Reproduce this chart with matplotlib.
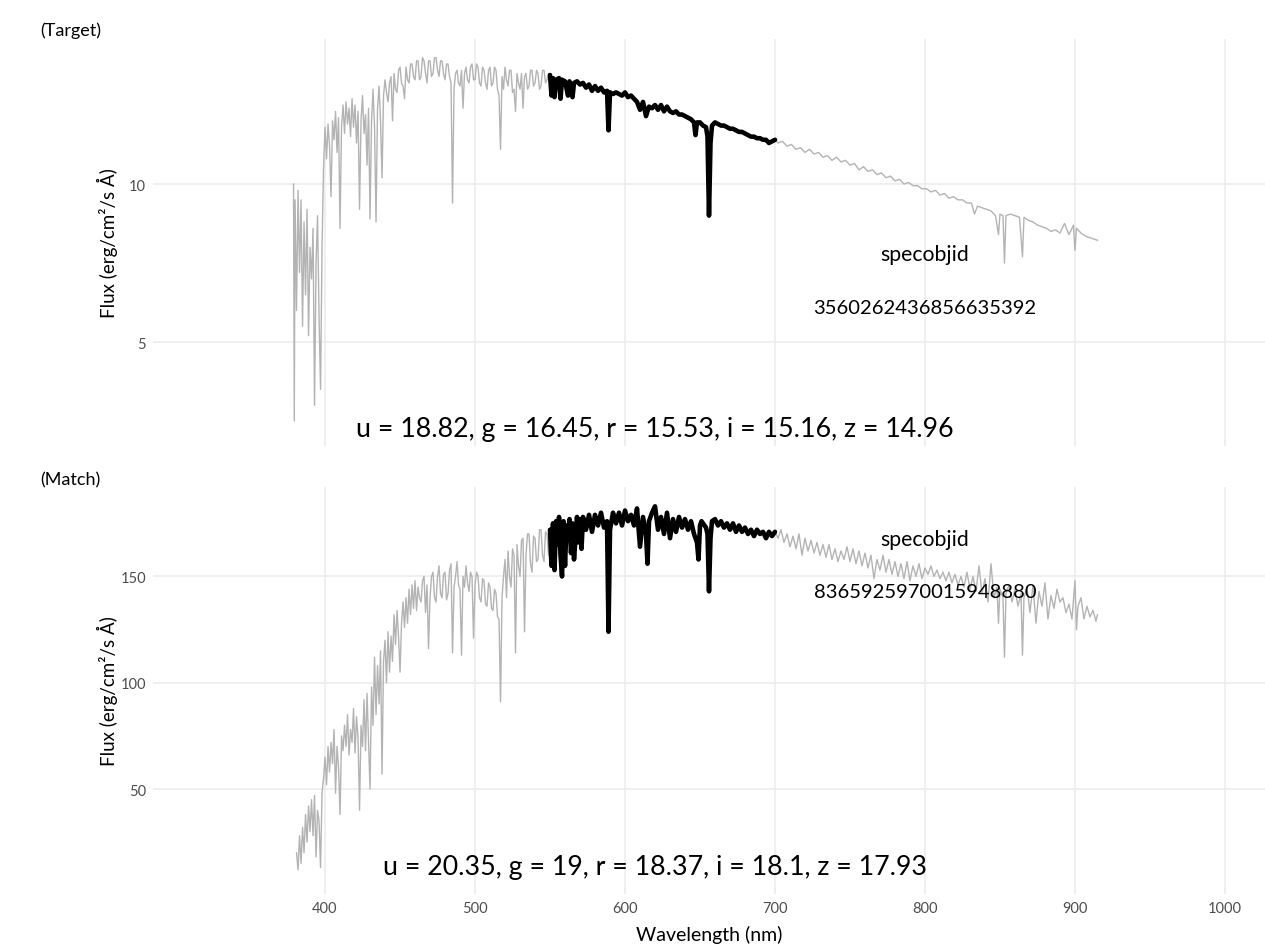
import numpy as np
import matplotlib
matplotlib.use("Agg")
import matplotlib.pyplot as plt

plt.rcParams['font.family'] = ['Lato', 'DejaVu Sans']

# --- target spectrum ---
tgt_wave = [379.0, 379.5, 380, 381, 382, 383, 384, 385, 386, 387, 388, 389, 390, 391, 392, 393, 394, 395, 396, 397, 398, 399,
            400, 401, 402, 403, 404, 405, 406, 407, 408, 409, 410, 411, 412, 413, 414, 415, 416, 417, 418, 419,
            420, 421, 422, 423, 424, 425, 426, 427, 428, 429, 430, 431, 432, 433, 434, 435, 436, 437, 438, 439,
            440, 441, 442, 443, 444, 445, 446, 447, 448, 449, 450, 451, 452, 453, 454, 455, 456, 457, 458, 459,
            460, 461, 462, 463, 464, 465, 466, 467, 468, 469, 470, 471, 472, 473, 474, 475, 476, 477, 478, 479,
            480, 481, 482, 483, 484, 485, 486, 487, 488, 489, 490, 491, 492, 493, 494, 495, 496, 497, 498, 499,
            500, 501, 502, 503, 504, 505, 506, 507, 508, 509, 510, 511, 512, 513, 514, 515, 516, 517, 518, 519,
            520, 521, 522, 523, 524, 525, 526, 527, 528, 529, 530, 531, 532, 533, 534, 535, 536, 537, 538, 539,
            540, 541, 542, 543, 544, 545, 546, 547, 548, 549,
            550, 551, 552, 553, 554, 556, 557, 558, 560, 562, 563, 565, 566, 568, 570, 572, 574, 576, 578, 580,
            582, 584, 586, 588, 589, 590, 592, 594, 596, 598, 600, 602, 604, 606, 608, 610, 612, 614, 616, 618,
            620, 622, 624, 626, 628, 630, 632, 634, 636, 638, 640, 642, 644, 646, 647, 648, 650, 652, 654, 655,
            656, 657, 658, 660, 662, 664, 666, 668, 670, 672, 674, 676, 678, 680, 682, 684, 686, 688, 690, 692,
            694, 696, 698, 700, 702, 705, 708, 711, 714, 717, 720, 723, 726, 729, 732, 735, 738, 741, 744, 747,
            750, 753, 756, 759, 762, 765, 768, 771, 774, 777, 780, 783, 786, 789, 792, 795, 798, 801, 804, 807,
            810, 813, 816, 819, 822, 825, 828, 831, 833, 835, 838, 841, 844, 847, 849, 850, 852, 853, 854, 857,
            860, 863, 865, 866, 869, 872, 875, 878, 881, 884, 887, 890, 893, 896, 899, 900, 901, 904, 907, 910,
            913, 915]
tgt_flux = [10.0, 2.5, 9.5, 6.0, 9.8, 7.2, 9.5, 5.5, 8.8, 6.5, 9.2, 5.2, 8.0, 7.0, 8.6, 3.0, 7.5, 9.0, 5.8, 3.5, 8.0, 10.5,
            11.8, 10.8, 11.9, 11.2, 9.6, 12.0, 11.4, 12.3, 11.0, 12.1, 8.6, 11.8, 12.5, 11.6, 12.6, 11.9, 12.4, 11.5, 12.7, 11.8,
            12.5, 11.3, 12.3, 9.2, 12.0, 12.8, 11.6, 12.2, 10.6, 12.4, 8.9, 12.0, 13.0, 11.8, 8.8, 12.4, 13.1, 12.0, 10.2, 12.8,
            13.3, 12.9, 12.6, 13.2, 13.4, 12.0, 13.5, 13.0, 12.9, 13.6, 13.7, 13.2, 13.1, 12.7, 13.7, 13.3, 13.2, 13.8, 13.8, 13.4,
            13.3, 13.9, 13.9, 13.3, 13.4, 14.0, 13.9, 13.5, 13.2, 13.9, 13.9, 13.4, 13.5, 14.0, 14.0, 13.6, 13.4, 13.9, 13.9, 13.5,
            13.3, 13.8, 13.8, 13.4, 13.2, 9.4, 13.0, 13.5, 13.6, 13.2, 13.1, 13.6, 12.4, 13.5, 13.7, 13.3, 13.2, 13.7, 13.8, 13.3,
            13.3, 13.8, 13.7, 13.2, 13.1, 13.7, 13.6, 13.2, 13.0, 13.6, 13.7, 13.1, 13.2, 13.7, 13.6, 13.0, 12.8, 11.1, 13.4, 13.0,
            13.7, 13.3, 13.1, 13.6, 13.6, 12.9, 13.0, 12.3, 13.5, 13.2, 13.0, 13.5, 12.4, 13.4, 13.5, 13.0, 13.1, 13.6, 13.6, 13.1,
            13.2, 13.6, 13.5, 13.0, 13.1, 13.6, 13.6, 13.2, 13.3, 13.5,
            13.45, 12.8, 13.35, 12.75, 13.3, 13.35, 12.7, 13.3, 13.25, 12.8, 13.25, 12.75, 13.2, 13.25, 13.15, 13.2, 13.05, 13.15, 12.95, 13.1,
            12.95, 13.05, 12.9, 12.95, 11.7, 12.9, 12.85, 12.9, 12.85, 12.8, 12.9, 12.75, 12.8, 12.7, 12.6, 12.35, 12.6, 12.15, 12.45, 12.4,
            12.5, 12.35, 12.5, 12.3, 12.45, 12.3, 12.25, 12.3, 12.2, 12.2, 12.15, 12.1, 12.05, 11.95, 11.55, 11.95, 11.95, 11.85, 11.8, 11.5,
            9.0, 11.3, 11.85, 11.95, 11.9, 11.85, 11.85, 11.8, 11.75, 11.75, 11.7, 11.65, 11.65, 11.6, 11.55, 11.5, 11.5, 11.45, 11.45, 11.4,
            11.4, 11.3, 11.35, 11.4, 11.3, 11.35, 11.2, 11.25, 11.1, 11.15, 11.0, 11.1, 10.95, 11.0, 10.85, 10.9, 10.75, 10.85, 10.7, 10.75,
            10.6, 10.65, 10.45, 10.55, 10.4, 10.45, 10.3, 10.35, 10.2, 10.25, 10.1, 10.15, 10.0, 10.05, 9.95, 9.95, 9.85, 9.85, 9.75, 9.8,
            9.65, 9.7, 9.55, 9.6, 9.5, 9.5, 9.4, 9.4, 9.05, 9.3, 9.25, 9.2, 9.15, 9.0, 8.4, 9.05, 9.0, 7.5, 9.0, 9.05,
            9.0, 8.95, 7.7, 8.95, 8.85, 8.8, 8.7, 8.65, 8.6, 8.5, 8.55, 8.45, 8.75, 8.4, 8.7, 7.9, 8.6, 8.45, 8.35, 8.3,
            8.25, 8.22]

# --- matched spectrum ---
match_wave = [381, 382, 383, 384, 385, 386, 387, 388, 389, 390, 391, 392, 393, 394, 395, 396, 397, 398, 399,
              400, 401, 402, 403, 404, 405, 406, 407, 408, 409, 410, 411, 412, 413, 414, 415, 416, 417, 418, 419,
              420, 421, 422, 423, 424, 425, 426, 427, 428, 429, 430, 431, 432, 433, 434, 435, 436, 437, 438, 439,
              440, 441, 442, 443, 444, 445, 446, 447, 448, 449, 450, 451, 452, 453, 454, 455, 456, 457, 458, 459,
              460, 461, 462, 463, 464, 465, 466, 467, 468, 469, 470, 471, 472, 473, 474, 475, 476, 477, 478, 479,
              480, 481, 482, 483, 484, 485, 486, 487, 488, 489, 490, 491, 492, 493, 494, 495, 496, 497, 498, 499,
              500, 501, 502, 503, 504, 505, 506, 507, 508, 509, 510, 511, 512, 513, 514, 515, 516, 517, 518, 519,
              520, 521, 522, 523, 524, 525, 526, 527, 528, 529, 530, 531, 532, 533, 534, 535, 536, 537, 538, 539,
              540, 541, 542, 543, 544, 545, 546, 547, 548, 549,
              550, 551, 552, 553, 554, 555, 556, 557, 558, 559, 560, 561, 562, 563, 564, 565, 566, 568, 569, 570,
              571, 572, 574, 576, 578, 580, 582, 584, 586, 588, 589, 590, 591, 592, 594, 596, 598, 600, 602, 604,
              606, 608, 610, 612, 614, 615, 616, 618, 620, 622, 624, 626, 628, 630, 632, 634, 636, 638, 640, 642,
              644, 646, 648, 649, 650, 651, 652, 654, 655, 656, 657, 658, 660, 662, 664, 666, 668, 670, 672, 674,
              676, 678, 680, 682, 684, 686, 688, 690, 692, 694, 696, 698, 700, 702, 704, 706, 708, 710, 712, 714,
              716, 718, 720, 722, 724, 726, 728, 730, 732, 734, 736, 738, 740, 742, 744, 746, 748, 750, 752, 754,
              756, 758, 760, 762, 764, 766, 768, 770, 772, 774, 776, 778, 780, 782, 784, 786, 788, 790, 792, 794,
              796, 798, 800, 802, 804, 806, 808, 810, 812, 814, 816, 818, 820, 822, 824, 826, 828, 830, 832, 834,
              836, 838, 840, 842, 844, 846, 848, 849, 850, 852, 853, 854, 856, 858, 860, 862, 864, 865, 866, 868,
              870, 872, 874, 876, 878, 880, 882, 884, 886, 888, 890, 892, 894, 896, 898, 900, 901, 902, 904, 906,
              908, 910, 912, 914, 915]
match_flux = [20, 12, 28, 15, 32, 20, 38, 25, 42, 30, 45, 28, 47, 18, 40, 35, 13, 48, 55,
              65, 52, 70, 58, 72, 62, 78, 48, 70, 60, 38, 75, 68, 80, 70, 85, 66, 78, 72, 88,
              67, 84, 74, 40, 80, 70, 92, 68, 95, 72, 50, 98, 80, 112, 85, 108, 90, 115, 57, 110,
              120, 100, 124, 105, 122, 110, 132, 118, 134, 122, 105, 128, 138, 126, 140, 128, 144, 132, 146, 135,
              148, 134, 145, 140, 138, 148, 150, 133, 146, 116, 140, 150, 152, 140, 138, 150, 155, 142, 140, 151,
              152, 139, 142, 153, 156, 114, 145, 150, 157, 146, 144, 113, 150, 145, 155, 147, 143, 152, 150, 121,
              146, 152, 150, 140, 138, 149, 148, 137, 136, 147, 145, 135, 134, 144, 142, 131, 130, 91, 140, 150,
              158, 140, 162, 150, 145, 163, 160, 114, 165, 155, 150, 167, 168, 124, 160, 170, 170, 156, 152, 169,
              168, 157, 158, 172, 172, 160, 157, 171, 170, 160,
              172, 155, 175, 153, 176, 165, 178, 160, 150, 176, 155, 174, 168, 177, 161, 175, 158, 178, 166, 177,
              163, 178, 172, 179, 171, 179, 174, 180, 173, 176, 124, 172, 176, 180, 175, 180, 174, 181, 176, 179,
              174, 182, 164, 178, 170, 156, 176, 180, 183, 172, 178, 170, 180, 168, 177, 171, 178, 173, 177, 172,
              176, 170, 166, 158, 174, 176, 175, 173, 170, 143, 168, 176, 177, 174, 176, 173, 175, 172, 175, 171,
              174, 171, 173, 170, 172, 169, 172, 170, 171, 168, 171, 169, 171, 168, 172, 166, 170, 164, 169, 163,
              170, 160, 168, 162, 167, 161, 166, 160, 165, 159, 165, 158, 163, 157, 162, 158, 164, 157, 163, 156,
              162, 155, 161, 154, 160, 149, 158, 153, 160, 152, 158, 151, 157, 150, 156, 149, 157, 148, 155, 150,
              156, 149, 154, 151, 155, 150, 153, 149, 152, 148, 152, 147, 151, 146, 150, 145, 152, 144, 150, 143,
              155, 142, 149, 138, 156, 140, 145, 128, 144, 140, 112, 142, 146, 138, 144, 136, 142, 113, 140, 145,
              133, 146, 128, 143, 136, 147, 130, 141, 135, 144, 138, 140, 133, 137, 130, 148, 125, 136, 140, 130,
              136, 131, 134, 129, 132]

# black highlight range, tags and labels
highlight_range = (550, 700)
tags = ['(Target)', '(Match)']
specobjids = ['3560262436856635392', '8365925970015948880']
mag_labels = ['u = 18.82, g = 16.45, r = 15.53, i = 15.16, z = 14.96',
              'u = 20.35, g = 19, r = 18.37, i = 18.1, z = 17.93']
x_ticks = [400, 500, 600, 700, 800, 900, 1000]
y_ticks = [[5, 10], [50, 100, 150]]

W, H = 1265, 953
fig = plt.figure(figsize=(W / 100, H / 100), dpi=100)

def px_axes(x0, y0, x1, y1):
    return fig.add_axes([x0 / W, 1 - y1 / H, (x1 - x0) / W, (y1 - y0) / H])

ax_top = px_axes(153, 40, 1265, 447)
ax_bot = px_axes(153, 488, 1265, 895)

panels = [
    (ax_top, tgt_wave, tgt_flux, (1.71, 14.59), (7.8, 6.1, 2.25), 31),
    (ax_bot, match_wave, match_flux, (0.6, 192.1), (167.5, 142.7, 13.7), 480),
]

for i, (ax, wave, flux, ylim, text_y, tag_y) in enumerate(panels):
    wave = np.array(wave)
    flux = np.array(flux)
    ax.plot(wave, flux, color='#B3B3B3', lw=1.0, zorder=2)
    sel = (wave >= highlight_range[0]) & (wave <= highlight_range[1])
    ax.plot(wave[sel], flux[sel], color='black', lw=3.3, zorder=3,
            solid_joinstyle='round', solid_capstyle='round')

    ax.set_xlim(285.3, 1026.7)
    ax.set_ylim(*ylim)
    ax.set_xticks(x_ticks)
    ax.set_yticks(y_ticks[i])
    ax.grid(True, color='#EBEBEB', lw=1.1, zorder=0)
    ax.set_axisbelow(True)
    for s in ax.spines.values():
        s.set_visible(False)
    ax.tick_params(length=0, labelsize=10.5, labelcolor='#4D4D4D', pad=5)

    # y title: right edge of the rotated text at a fixed pixel column
    ax.set_ylabel('Flux (erg/cm²/s Å)', fontsize=13.5)
    ax.yaxis.set_label_coords((118 - 153) / 1112, 0.5)

    ax.text(800, text_y[0], 'specobjid', ha='center', va='center', fontsize=15.3)
    ax.text(800, text_y[1], specobjids[i], ha='center', va='center', fontsize=14.5)
    ax.text(620, text_y[2], mag_labels[i], ha='center', va='center', fontsize=19.3)

    fig.text(40 / W, 1 - tag_y / H, tags[i], ha='left', va='center', fontsize=13)

ax_top.tick_params(labelbottom=False)
ax_bot.set_xlabel('Wavelength (nm)', fontsize=14, labelpad=7)

fig.savefig('out.png', dpi=100)
